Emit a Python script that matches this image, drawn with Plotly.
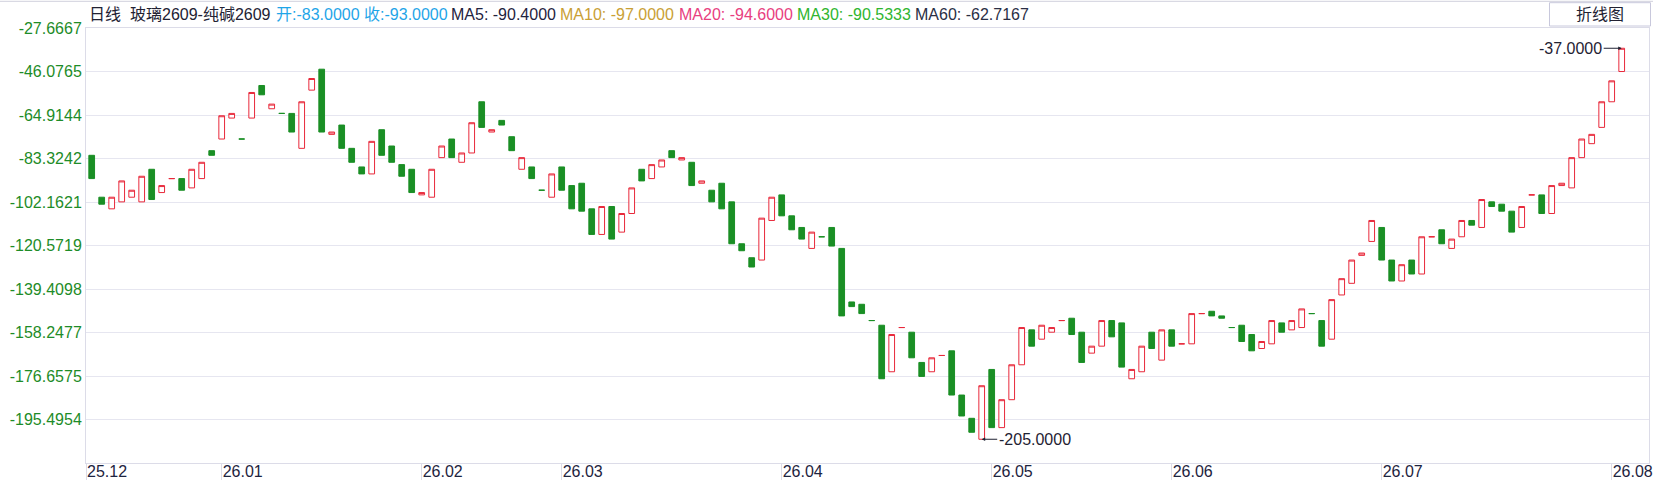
import numpy as np
import plotly.graph_objects as go

# ---------------- data ----------------
opens = [-83, -101, -106, -103, -101, -103, -89, -99, -93, -93,
         -97, -93, -81, -76, -67, -76, -67, -53, -63, -65,
         -65, -80, -55, -46, -74, -70, -80, -88, -91, -72,
         -79, -87, -89, -100, -101, -84, -76, -86, -82, -60,
         -73, -68, -75, -89, -88, -98, -101, -88, -96, -95,
         -106, -117, -105, -116, -108, -89, -93, -88, -81, -85,
         -86, -95, -98, -95, -103, -121, -127, -128, -111, -100,
         -109, -114, -123, -118, -114, -123, -146, -147, -154, -156,
         -176, -157, -159, -172, -176, -169, -167, -186, -196, -205,
         -175, -200, -188, -173, -158, -162, -159, -154, -153, -159,
         -168, -165, -154, -155, -179, -176, -159, -171, -158, -164,
         -164, -151, -150, -152, -157, -156, -160, -166, -164, -155,
         -158, -157, -151, -154, -162, -143, -138, -126, -120, -114,
         -128, -137, -128, -134, -118, -115, -123, -118, -111, -114,
         -103, -104, -107, -114, -100, -100, -108, -96, -97, -84,
         -78, -71, -60, -47]
closes = [-93, -104, -101, -94, -98, -92, -102, -96, -93, -98,
          -89, -86, -83, -66, -65, -76, -56, -57, -61, -65,
          -73, -60, -50, -73, -73, -80, -86, -91, -77, -83,
          -86, -92, -99, -99, -89, -79, -84, -82, -69, -71,
          -72, -70, -81, -84, -93, -98, -91, -98, -106, -107,
          -117, -105, -119, -108, -97, -94, -87, -85, -84, -84,
          -96, -94, -103, -106, -121, -124, -131, -110, -101, -109,
          -115, -119, -116, -118, -122, -152, -148, -151, -154, -179,
          -160, -157, -170, -178, -170, -169, -186, -195, -202, -182,
          -200, -188, -173, -157, -165, -156, -157, -154, -160, -172,
          -165, -154, -161, -174, -175, -165, -166, -158, -165, -164,
          -151, -151, -152, -153, -157, -163, -167, -163, -154, -159,
          -154, -149, -151, -165, -145, -136, -128, -125, -111, -128,
          -137, -130, -134, -118, -118, -121, -119, -111, -113, -102,
          -105, -107, -116, -105, -100, -108, -96, -95, -84, -76,
          -74, -60, -51, -37]

month_labels = ["25.12", "26.01", "26.02", "26.03", "26.04",
                "26.05", "26.06", "26.07", "26.08"]
month_start_idx = [0, 13, 33, 47, 69, 90, 108, 129, 152]

y_tick_labels = ["-27.6667", "-46.0765", "-64.9144", "-83.3242", "-102.1621",
                 "-120.5719", "-139.4098", "-158.2477", "-176.6575", "-195.4954"]

header_texts = ["日线", "玻璃2609-纯碱2609", "开:-83.0000 收:-93.0000",
                "MA5: -90.4000", "MA10: -97.0000", "MA20: -94.6000",
                "MA30: -90.5333", "MA60: -62.7167"]

# ---------------- style ----------------
W, H = 1653, 482
L, R, T, B = 86, 4, 28, 19
PW, PH = W - L - R, H - T - B
X_RANGE = [-0.57, 155.73]
Y_RANGE = [-215.2, -28.3]

RED = "#e8293b"
GREEN = "#1a8f25"
GRID = "#e6e6f0"
FRAME = "#dcdce8"
FONT = "Liberation Sans, Arial, Noto Sans CJK SC, sans-serif"

header_colors = ["#222233", "#222233", "#1fa5e8", "#1f2340",
                 "#c9a035", "#e8407f", "#2fb52f", "#2a2f45"]
header_px = [87, 128, 274, 449, 558, 677, 795, 913]


def px_to_paper_x(px):
    return (px - L) / PW


def px_to_paper_y(py):
    return 1 + (T - py) / PH


x = list(range(len(opens)))
highs = [max(o, c) for o, c in zip(opens, closes)]
lows = [min(o, c) for o, c in zip(opens, closes)]

fig = go.Figure()
fig.add_trace(go.Candlestick(
    x=x, open=opens, high=highs, low=lows, close=closes,
    increasing=dict(line=dict(color=RED, width=1), fillcolor="white"),
    decreasing=dict(line=dict(color=GREEN, width=1), fillcolor=GREEN),
    whiskerwidth=0, hoverinfo="skip", showlegend=False,
))

ytickvals = list(np.linspace(Y_RANGE[1], Y_RANGE[0], 11)[:10])
xtickvals = [X_RANGE[0]] + month_start_idx[1:]

fig.update_layout(
    width=W, height=H,
    margin=dict(l=L, r=R, t=T, b=B, pad=0, autoexpand=False),
    plot_bgcolor="white", paper_bgcolor="white",
    showlegend=False, boxgap=0.43, boxgroupgap=0,
    font=dict(family=FONT, size=16, color="#1e2440"),
    xaxis=dict(
        range=X_RANGE, rangeslider=dict(visible=False),
        showgrid=False, zeroline=False,
        showline=True, linecolor=FRAME, linewidth=1, mirror=True,
        tickmode="array", tickvals=xtickvals, ticktext=month_labels,
        ticks="outside", ticklen=16, tickcolor=FRAME, tickwidth=1,
        ticklabelposition="outside right", ticklabelstandoff=-6,
        tickfont=dict(family=FONT, size=16, color="#1e2440"),
        automargin=False,
    ),
    yaxis=dict(
        range=Y_RANGE, showgrid=True, gridcolor=GRID, gridwidth=1,
        zeroline=False, showline=True, linecolor=FRAME, linewidth=1, mirror=True,
        tickmode="array", tickvals=ytickvals, ticktext=y_tick_labels,
        ticks="", tickfont=dict(family=FONT, size=16, color="#1e8c28"),
        automargin=False,
    ),
    yaxis2=dict(
        range=Y_RANGE, overlaying="y", side="right", anchor="x",
        tickmode="array", tickvals=ytickvals, showticklabels=False,
        ticks="outside", ticklen=3, tickcolor="#e8c840", showgrid=False,
        zeroline=False, showline=False,
    ),
)

annotations = []
for txt, col, px in zip(header_texts, header_colors, header_px):
    annotations.append(dict(
        text=txt, xref="paper", yref="paper",
        x=px_to_paper_x(px), y=px_to_paper_y(14),
        xanchor="left", yanchor="middle", showarrow=False,
        font=dict(family=FONT, size=16, color=col),
    ))

# max / min markers
i_max = int(np.argmax(highs))
i_min = int(np.argmin(lows))
annotations.append(dict(
    x=i_max, y=highs[i_max], xref="x", yref="y",
    text=f"{highs[i_max]:.4f}", showarrow=True,
    ax=-51, ay=0, arrowhead=2, arrowsize=0.7, arrowwidth=1,
    arrowcolor="#1f2233", standoff=0,
    font=dict(family=FONT, size=16, color="#1f2233"),
))
annotations.append(dict(
    x=i_min, y=lows[i_min], xref="x", yref="y",
    text=f"{lows[i_min]:.4f}", showarrow=True,
    ax=53, ay=0, arrowhead=2, arrowsize=0.7, arrowwidth=1,
    arrowcolor="#1f2233", standoff=0,
    font=dict(family=FONT, size=16, color="#1f2233"),
))

# button "折线图"
annotations.append(dict(
    text="折线图", xref="paper", yref="paper",
    x=px_to_paper_x(1600), y=px_to_paper_y(14),
    xanchor="center", yanchor="middle", showarrow=False,
    font=dict(family=FONT, size=16, color="#222233"),
))
fig.update_layout(annotations=annotations)

fig.update_layout(shapes=[
    dict(type="line", xref="paper", yref="paper",
         x0=px_to_paper_x(0), x1=px_to_paper_x(W),
         y0=px_to_paper_y(1.3), y1=px_to_paper_y(1.3),
         line=dict(color="#d0d0dc", width=1)),
    dict(type="rect", xref="paper", yref="paper",
         x0=px_to_paper_x(1549.5), x1=px_to_paper_x(1650.5),
         y0=px_to_paper_y(26), y1=px_to_paper_y(2.7),
         line=dict(color="#c8c8dc", width=1), fillcolor="rgba(0,0,0,0)"),
])

fig.write_html("out.html", config={"displayModeBar": False},
               post_script="document.body.style.margin='0';document.body.style.overflow='hidden';")
